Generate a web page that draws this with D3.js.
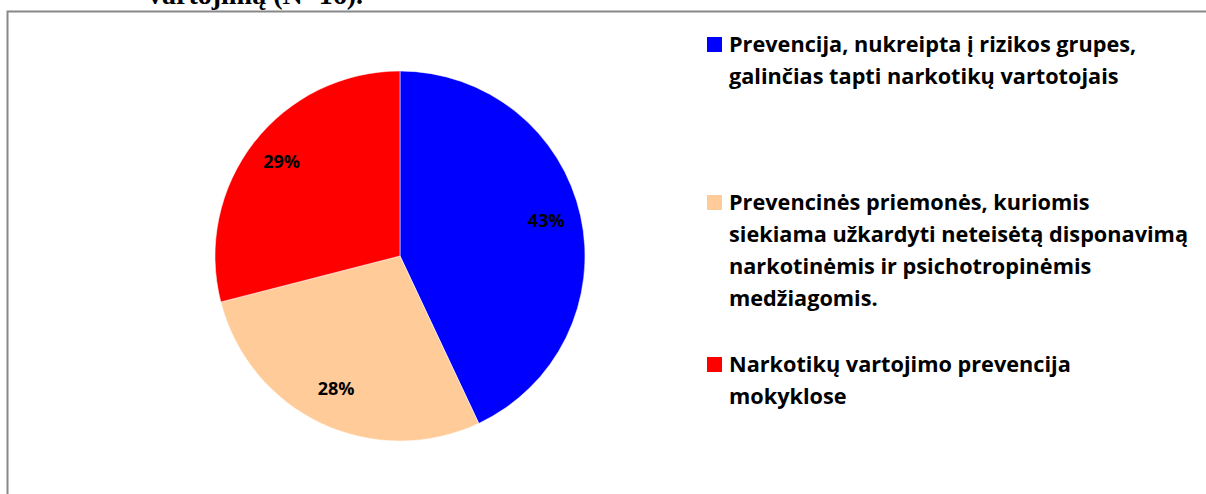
<!DOCTYPE html>
<html>
<head>
<meta charset="utf-8">
<script src="https://cdn.jsdelivr.net/npm/d3@7"></script>
<style>
  body { margin: 0; background: #fff; }
  svg { display: block; }
</style>
</head>
<body>
<svg></svg>
<script>
var width = 1206;
var height = 494;

// data
var categories = [
  "Prevencija, nukreipta į rizikos grupes, galinčias tapti narkotikų vartotojais",
  "Prevencinės priemonės, kuriomis siekiama užkardyti neteisėtą disponavimą narkotinėmis ir psichotropinėmis medžiagomis.",
  "Narkotikų vartojimo prevencija mokyklose"
];
var values = [43, 28, 29];
var colors = ["#0000ff", "#ffcc99", "#ff0000"];
// legend text broken as in the picture
var legendLines = [
  ["Prevencija, nukreipta į rizikos grupes,", "galinčias tapti narkotikų vartotojais"],
  ["Prevencinės priemonės, kuriomis", "siekiama užkardyti neteisėtą disponavimą", "narkotinėmis ir psichotropinėmis", "medžiagomis."],
  ["Narkotikų vartojimo prevencija", "mokyklose"]
];
var legendTop = [52, 210, 372];

var svg = d3.select("svg")
  .attr("width", width)
  .attr("height", height);

// title cut at top of the page
svg.append("text")
  .attr("x", 148)
  .attr("y", 4)
  .style("font-family", "'Liberation Serif', 'Times New Roman', serif")
  .style("font-weight", "bold")
  .style("font-size", "28px")
  .text("vartojimą (N=16).");

// chart frame
svg.append("path")
  .attr("d", "M7.5," + (height + 5) + "V11.5H" + (width + 5))
  .attr("fill", "none")
  .attr("stroke", "#888")
  .attr("stroke-width", 2);

var cx = 400, cy = 256, radius = 185;

var pie = d3.pie().sort(null).value(function(d) { return d; });
var arc = d3.arc().innerRadius(0).outerRadius(radius);
var labelArc = d3.arc().innerRadius(radius * 0.81).outerRadius(radius * 0.81);

var g = svg.append("g")
  .attr("transform", "translate(" + cx + "," + cy + ")");

var slices = g.selectAll(".slice")
  .data(pie(values))
  .enter().append("g")
  .attr("class", "slice");

slices.append("path")
  .attr("d", arc)
  .style("fill", function(d, i) { return colors[i]; })
  .style("stroke", "#fff")
  .style("stroke-width", 0.5);

slices.append("text")
  .attr("transform", function(d) { return "translate(" + labelArc.centroid(d) + ")"; })
  .attr("text-anchor", "middle")
  .attr("dy", "0.2em")
  .style("font-family", "'Open Sans', sans-serif")
  .style("font-weight", "bold")
  .style("font-size", "18px")
  .text(function(d) { return d.data + "%"; });

// legend
var legend = svg.selectAll(".legend")
  .data(categories)
  .enter().append("g")
  .attr("class", "legend")
  .attr("transform", function(d, i) { return "translate(707," + legendTop[i] + ")"; });

legend.append("rect")
  .attr("x", 0)
  .attr("y", -15)
  .attr("width", 15)
  .attr("height", 15)
  .style("fill", function(d, i) { return colors[i]; });

legend.append("text")
  .style("font-family", "'Open Sans', sans-serif")
  .style("font-weight", "bold")
  .style("font-size", "21.7px")
  .attr("fill", "#000")
  .each(function(d, i) {
    var t = d3.select(this);
    legendLines[i].forEach(function(line, j) {
      t.append("tspan")
        .attr("x", 22)
        .attr("y", j * 32)
        .text(line);
    });
  });
</script>
</body>
</html>
